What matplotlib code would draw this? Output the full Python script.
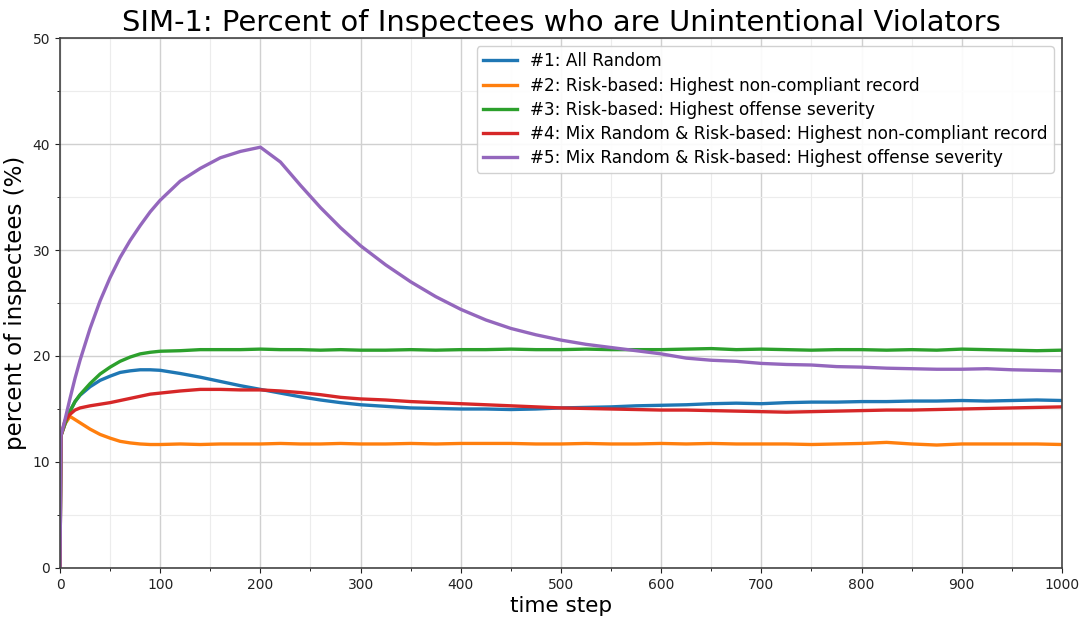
import matplotlib
matplotlib.use("Agg")
import matplotlib.pyplot as plt
from matplotlib.ticker import MultipleLocator

time_steps = [0, 1, 5, 10, 15, 20, 30, 40, 50, 60, 70, 80, 90, 100, 120, 140, 160, 180,
              200, 220, 240, 260, 280, 300, 325, 350, 375, 400, 425, 450, 475, 500, 525,
              550, 575, 600, 625, 650, 675, 700, 725, 750, 775, 800, 825, 850, 875, 900,
              925, 950, 975, 1000]

all_random = [0, 12.5, 13.6, 14.8, 15.7, 16.3, 17.1, 17.7, 18.1, 18.45, 18.6, 18.7, 18.7,
              18.65, 18.35, 18.0, 17.6, 17.2, 16.85, 16.5, 16.15, 15.85, 15.6, 15.4, 15.25,
              15.1, 15.05, 15.0, 15.0, 14.95, 15.0, 15.1, 15.15, 15.2, 15.3, 15.35, 15.4,
              15.5, 15.55, 15.5, 15.6, 15.65, 15.65, 15.7, 15.7, 15.75, 15.75, 15.8, 15.75,
              15.8, 15.85, 15.8]

risk_record = [0, 12.5, 13.6, 14.3, 14.0, 13.7, 13.1, 12.6, 12.25, 11.95, 11.8, 11.7, 11.65,
               11.65, 11.7, 11.65, 11.7, 11.7, 11.7, 11.75, 11.7, 11.7, 11.75, 11.7, 11.7,
               11.75, 11.7, 11.75, 11.75, 11.75, 11.7, 11.7, 11.75, 11.7, 11.7, 11.75, 11.7,
               11.75, 11.7, 11.7, 11.7, 11.65, 11.7, 11.75, 11.85, 11.7, 11.6, 11.7, 11.7,
               11.7, 11.7, 11.65]

risk_severity = [0, 12.5, 13.6, 14.8, 15.7, 16.35, 17.4, 18.3, 18.95, 19.5, 19.9, 20.2,
                 20.35, 20.45, 20.5, 20.6, 20.6, 20.6, 20.65, 20.6, 20.6, 20.55, 20.6, 20.55,
                 20.55, 20.6, 20.55, 20.6, 20.6, 20.65, 20.6, 20.6, 20.65, 20.6, 20.6, 20.6,
                 20.65, 20.7, 20.6, 20.65, 20.6, 20.55, 20.6, 20.6, 20.55, 20.6, 20.55, 20.65,
                 20.6, 20.55, 20.5, 20.55]

mix_record = [0, 12.5, 13.9, 14.5, 14.9, 15.1, 15.3, 15.45, 15.6, 15.8, 16.0, 16.2, 16.4,
              16.5, 16.7, 16.85, 16.85, 16.8, 16.8, 16.7, 16.55, 16.35, 16.1, 15.95, 15.85,
              15.7, 15.6, 15.5, 15.4, 15.3, 15.2, 15.1, 15.05, 15.0, 14.95, 14.9, 14.9,
              14.85, 14.8, 14.75, 14.7, 14.75, 14.8, 14.85, 14.9, 14.9, 14.95, 15.0, 15.05,
              15.1, 15.15, 15.2]

mix_severity = [0, 12.5, 14.0, 16.0, 17.9, 19.6, 22.6, 25.2, 27.4, 29.3, 30.9, 32.3, 33.6,
                34.7, 36.5, 37.7, 38.7, 39.3, 39.7, 38.3, 36.1, 34.0, 32.1, 30.4, 28.6, 27.0,
                25.6, 24.4, 23.4, 22.6, 22.0, 21.5, 21.1, 20.8, 20.5, 20.2, 19.8, 19.6, 19.5,
                19.3, 19.2, 19.15, 19.0, 18.95, 18.85, 18.8, 18.75, 18.75, 18.8, 18.7, 18.65,
                18.6]

series_labels = [
    "#1: All Random",
    "#2: Risk-based: Highest non-compliant record",
    "#3: Risk-based: Highest offense severity",
    "#4: Mix Random & Risk-based: Highest non-compliant record",
    "#5: Mix Random & Risk-based: Highest offense severity",
]
series_values = [all_random, risk_record, risk_severity, mix_record, mix_severity]
series_colors = ["#1f77b4", "#ff7f0e", "#2ca02c", "#d62728", "#9467bd"]

fig = plt.figure(figsize=(10.91, 6.19), dpi=100)
ax = fig.add_axes([0.055, 0.0824, 0.9184, 0.8562])

for vals, lab, col in zip(series_values, series_labels, series_colors):
    ax.plot(time_steps, vals, color=col, lw=2.4, label=lab)

ax.set_xlim(0, 1000)
ax.set_ylim(0, 50)
ax.xaxis.set_major_locator(MultipleLocator(100))
ax.xaxis.set_minor_locator(MultipleLocator(50))
ax.yaxis.set_major_locator(MultipleLocator(10))
ax.yaxis.set_minor_locator(MultipleLocator(5))
ax.grid(which="major", color="#d0d0d0", lw=1.0)
ax.grid(which="minor", color="#ececec", lw=0.8)
ax.set_axisbelow(True)
ax.tick_params(labelsize=10, colors="#222222")
for sp in ax.spines.values():
    sp.set_color("#444444")
    sp.set_linewidth(1.2)

ax.set_title("SIM-1: Percent of Inspectees who are Unintentional Violators", fontsize=20.9, pad=5)
ax.set_xlabel("time step", fontsize=15.5, labelpad=3)
ax.set_ylabel("percent of inspectees (%)", fontsize=16.5, labelpad=4)
ax.legend(loc="upper right", fontsize=12.2, framealpha=0.9, borderaxespad=0.5,
          labelspacing=0.36, borderpad=0.35)

fig.savefig("out.png", dpi=100)
